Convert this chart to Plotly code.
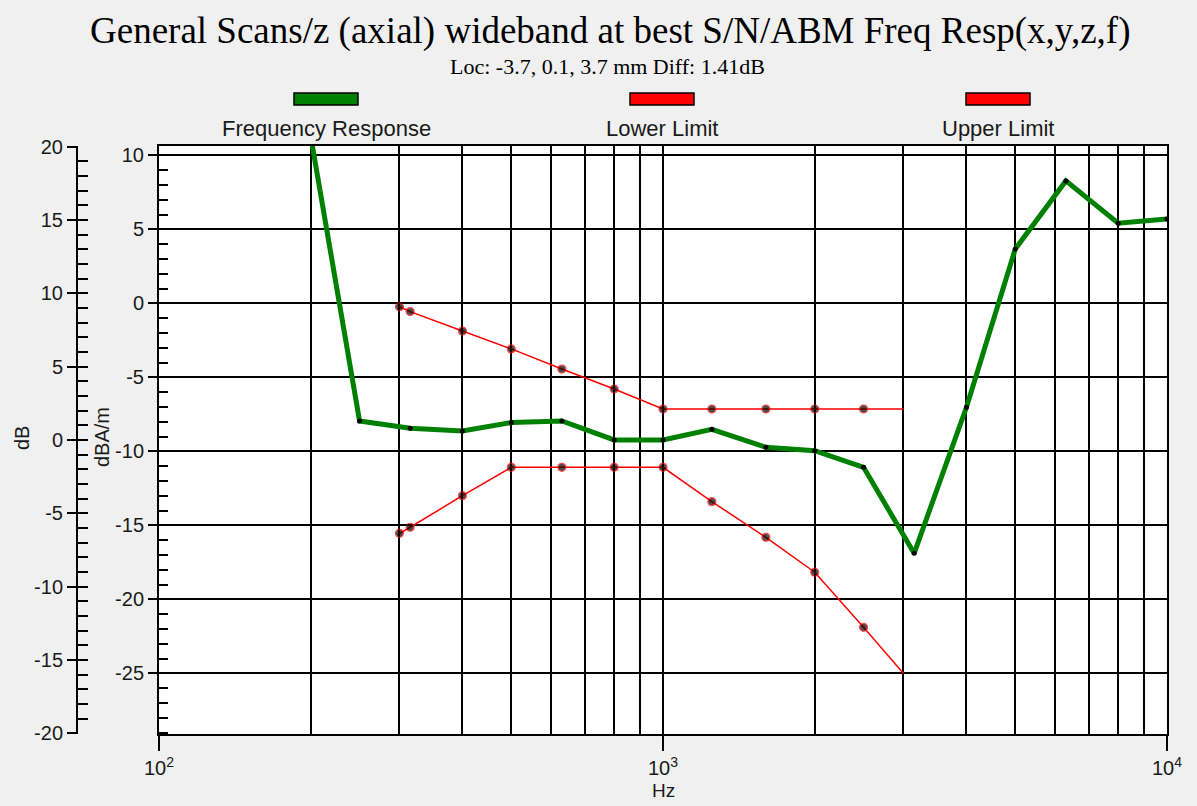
import plotly.graph_objects as go

# ---- data -----------------------------------------------------------------
freq_resp_hz = [200, 250, 315, 400, 500, 630, 800, 1000, 1250, 1600, 2000,
                2500, 3150, 4000, 5000, 6300, 8000, 10000]
freq_resp_db = [11.3, -7.94, -8.43, -8.61, -8.05, -7.94, -9.22, -9.22, -8.50,
                -9.72, -9.95, -11.07, -16.88, -7.01, 3.68, 8.28, 5.42, 5.71]

limit_hz = [300, 315, 400, 500, 630, 800, 1000, 1250, 1600, 2000, 2500, 3000]
upper_limit_db = [-0.22, -0.55, -1.86, -3.07, -4.43, -5.78, -7.13, -7.13,
                  -7.13, -7.13, -7.13, -7.13]
lower_limit_db = [-15.53, -15.12, -12.99, -11.07, -11.07, -11.07, -11.07,
                  -13.39, -15.80, -18.16, -21.88, -25.0]

legend_names = ["Frequency Response", "Lower Limit", "Upper Limit"]
legend_colors = ["#008000", "#ff0000", "#ff0000"]

x_major = [100, 1000, 10000]
x_major_text = ["10<sup>2</sup>", "10<sup>3</sup>", "10<sup>4</sup>"]
x_minor = [m * d for d in (100, 1000) for m in range(2, 10)]

dbam_major = list(range(-25, 11, 5))
dbam_minor = list(range(-29, 11))
db_major = list(range(-20, 21, 5))
db_minor = list(range(-19, 20))

# ---- geometry -------------------------------------------------------------
W, H = 1197, 806
ML, MR, MT, MB = 77, 30, 146, 72
PW, PH = W - ML - MR, H - MT - MB
X_DOMAIN0 = (159 - ML) / PW


def px(x, y):
    """pixel position -> paper coordinates"""
    return (x - ML) / PW, (H - MB - y) / PH


def labels(vals):
    # plain hyphen for negative numbers
    return [str(v) for v in vals]


SANS = "Liberation Sans, Arial, sans-serif"
SERIF = "Liberation Serif, Times New Roman, serif"
TXT = "#1a1a1a"

fig = go.Figure()

# limit curves (final point has no marker)
mk_sizes = [8] * (len(limit_hz) - 1) + [0]
for ys, nm in ((upper_limit_db, "Upper Limit"), (lower_limit_db, "Lower Limit")):
    fig.add_trace(go.Scatter(
        x=limit_hz, y=ys, name=nm, mode="lines+markers",
        line=dict(color="#ff0000", width=1.5),
        marker=dict(color="black", size=mk_sizes,
                    line=dict(color="#ff0000", width=1.2)),
        showlegend=False))

fig.add_trace(go.Scatter(
    x=freq_resp_hz, y=freq_resp_db, name="Frequency Response",
    mode="lines+markers",
    line=dict(color="#008000", width=5),
    marker=dict(color="black", size=5),
    showlegend=False))

# empty traces that carry the extra tick axes
for ax in ("y2", "y3", "y4"):
    fig.add_trace(go.Scatter(x=[None], y=[None], yaxis=ax, showlegend=False,
                             hoverinfo="skip"))

tickfont = dict(family=SANS, size=20, color=TXT)
DBAM_RANGE = [-29.09, 10.64]
DB_RANGE = [-20.04, 20.04]

fig.update_layout(
    width=W, height=H,
    margin=dict(l=ML, r=MR, t=MT, b=MB),
    paper_bgcolor="#f0f0f0",
    plot_bgcolor="white",
    xaxis=dict(
        type="log", range=[2, 4], domain=[X_DOMAIN0, 1],
        tickmode="array", tickvals=x_major, ticktext=x_major_text,
        ticks="outside", ticklen=15, tickwidth=2, tickcolor="black",
        showline=True, linecolor="black", linewidth=2, mirror=True,
        showgrid=True, gridcolor="black", gridwidth=1.6,
        tickfont=tickfont,
        minor=dict(tickmode="array", tickvals=x_minor, showgrid=True,
                   gridcolor="black", gridwidth=1.6, ticks=""),
        zeroline=False,
    ),
    yaxis=dict(
        range=DBAM_RANGE, anchor="x",
        tickmode="array", tickvals=dbam_major, ticktext=labels(dbam_major),
        ticks="outside", ticklen=9, tickwidth=2, tickcolor="black",
        showline=True, linecolor="black", linewidth=2, mirror=True,
        showgrid=True, gridcolor="black", gridwidth=1.6,
        zeroline=False, tickfont=tickfont,
    ),
    yaxis3=dict(
        range=DBAM_RANGE, overlaying="y", anchor="x",
        tickmode="array", tickvals=dbam_minor,
        ticks="inside", ticklen=9, tickwidth=2, tickcolor="black",
        showticklabels=False, showgrid=False, showline=False, zeroline=False,
    ),
    yaxis2=dict(
        range=DB_RANGE, overlaying="y", anchor="free", position=0,
        side="left",
        tickmode="array", tickvals=db_major, ticktext=labels(db_major),
        ticks="outside", ticklen=9, tickwidth=2, tickcolor="black",
        showline=True, linecolor="black", linewidth=2,
        showgrid=False, zeroline=False, tickfont=tickfont,
    ),
    yaxis4=dict(
        range=DB_RANGE, overlaying="y", anchor="free", position=0,
        side="left",
        tickmode="array", tickvals=db_minor,
        ticks="inside", ticklen=10, tickwidth=2, tickcolor="black",
        showticklabels=False, showgrid=False, showline=False, zeroline=False,
    ),
)

annotations = []
shapes = []


def add_text(text, x, y, size, family=SANS, angle=0, color=TXT):
    ax_, ay_ = px(x, y)
    annotations.append(dict(text=text, x=ax_, y=ay_, xref="paper", yref="paper",
                            showarrow=False, xanchor="center", yanchor="middle",
                            textangle=angle,
                            font=dict(family=family, size=size, color=color)))


add_text("General Scans/z (axial) wideband at best S/N/ABM Freq Resp(x,y,z,f)",
         610, 31, 37, family=SERIF, color="black")
add_text("Loc: -3.7, 0.1, 3.7 mm Diff: 1.41dB", 607, 66, 22, family=SERIF,
         color="black")
add_text("dB", 22, 438, 20, angle=-90)
add_text("dBA/m", 102, 437, 20, angle=-90)
add_text("Hz", 663, 790, 19)

# legend swatches and labels
for name, col, cx in zip(legend_names, legend_colors, (326, 662, 998)):
    x0, y0 = px(cx - 32, 93)
    x1, y1 = px(cx + 32, 105)
    shapes.append(dict(type="rect", xref="paper", yref="paper",
                       x0=x0, x1=x1, y0=y0, y1=y1, fillcolor=col,
                       line=dict(color="black", width=1.5)))
    add_text(name, cx, 128, 22)

fig.update_layout(annotations=annotations, shapes=shapes)

fig.write_html("out.html")
